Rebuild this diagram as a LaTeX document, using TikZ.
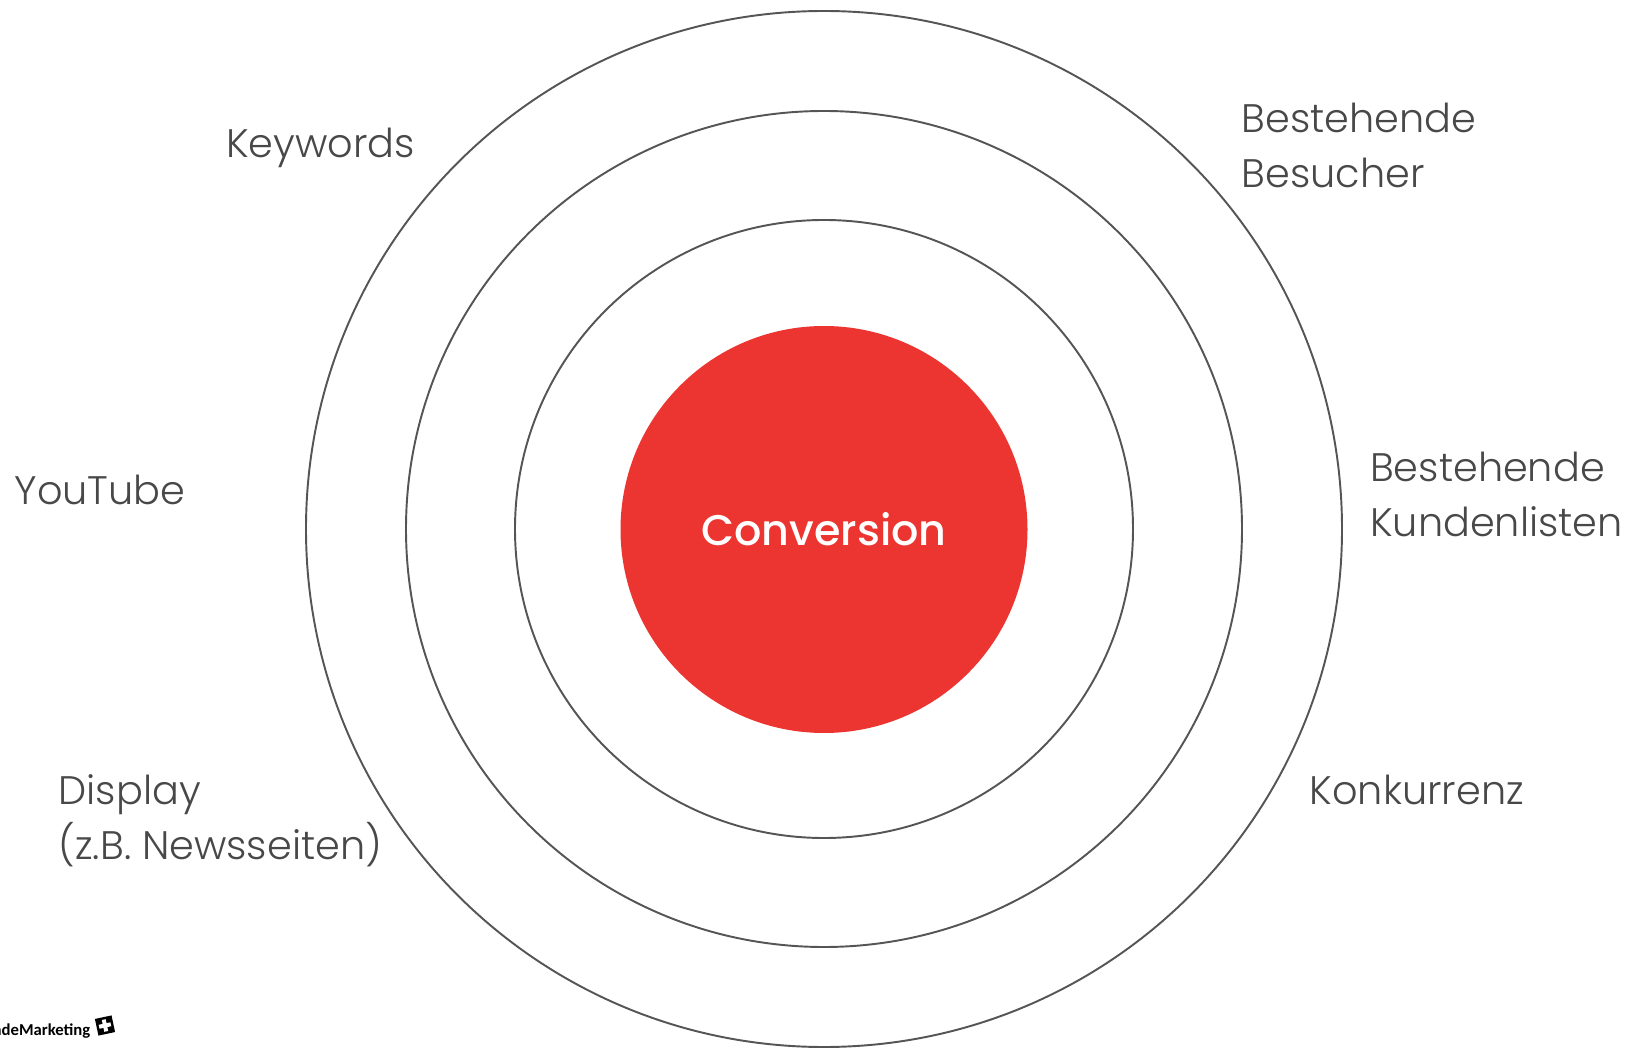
\documentclass[tikz,border=0pt]{standalone}
\usepackage{fontspec}
\setmainfont[UprightFont=* Light,BoldFont=* Medium]{Poppins}
\newfontfamily\logofont{Carlito}
\definecolor{ringgray}{RGB}{85, 85, 85}
\definecolor{labelgray}{RGB}{72, 72, 72}
\definecolor{convred}{RGB}{236, 53, 48}
\usetikzlibrary{positioning}

\begin{document}
\begin{tikzpicture}[
  ring/.style={draw=ringgray, circle, line width=0.55pt, inner sep=0pt},
  channel/.style={anchor=west, align=left, inner sep=0pt, text=labelgray, font=\fontsize{11.33}{15.6}\selectfont}
]
  \useasboundingbox (-8.24, -5.19) rectangle (8.08, 5.29);

  % Rings
  \node[ring, minimum size=10.36cm] (outer) at (0, 0) {};
  \node[ring, minimum size=8.36cm] (middle) at (0, 0) {};
  \node[ring, minimum size=6.18cm] (inner) at (0, 0) {};

  % Centre
  \node[circle, fill=convred, minimum size=4.07cm, inner sep=0pt, text=white, font=\fontsize{12.2}{15}\selectfont\bfseries] (conv) at (0, -0.005) {Conversion};

  % Channels on the left
  \node[channel] (keywords) at (-5.985, 3.81) {Keywords};
  \node[channel] (youtube) at (-8.10, 0.39) {YouTube};
  \node[channel] (display) at (-7.66, -2.92) {Display\\(z.B. Newsseiten)};

  % Channels on the right
  \node[channel] (besucher) at (4.17, 3.835) {Bestehende\\Besucher};
  \node[channel] (kunden) at (5.455, 0.345) {Bestehende\\Kundenlisten};
  \node[channel] (konkurrenz) at (4.85, -2.605) {Konkurrenz};

  % Logo
  \node[anchor=base east, inner sep=0pt, font=\logofont\fontsize{4.75}{5}\selectfont\bfseries] (logo) at (-7.33, -5.06) {adeMarketing};
  \node[fill=black, rotate=12, minimum size=0.17cm, inner sep=0pt] (logobox) at (-7.19, -4.965) {};
  \fill[white, rotate around={12:(logobox.center)}] ([xshift=-0.06cm, yshift=-0.02cm]logobox.center) rectangle ([xshift=0.06cm, yshift=0.02cm]logobox.center);
  \fill[white, rotate around={12:(logobox.center)}] ([xshift=-0.02cm, yshift=-0.06cm]logobox.center) rectangle ([xshift=0.02cm, yshift=0.06cm]logobox.center);
\end{tikzpicture}
\end{document}
